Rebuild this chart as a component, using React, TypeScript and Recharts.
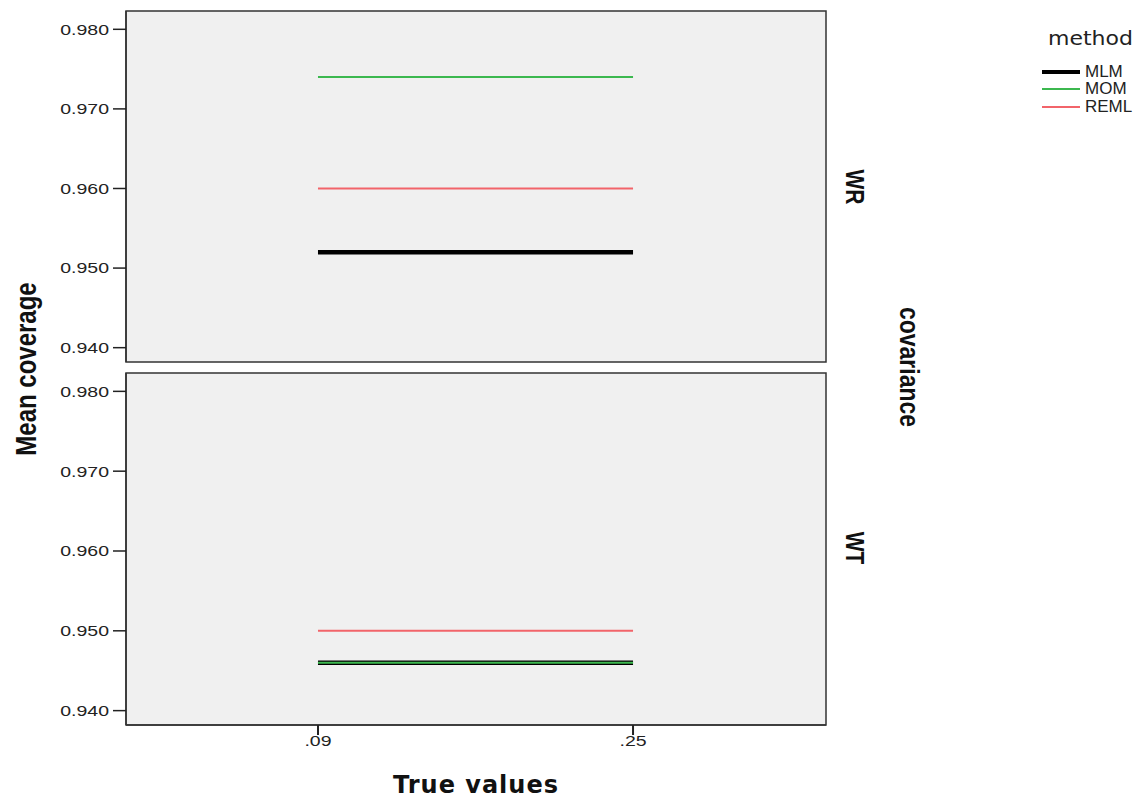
import { LineChart, Line, XAxis, YAxis, CartesianGrid, ReferenceArea } from 'recharts';

// valores
const trueValues = [0.09, 0.25];
const methods = ['MLM', 'MOM', 'REML'];
const yTicks = [0.94, 0.95, 0.96, 0.97, 0.98];

const wrMLM = [0.952, 0.952];
const wrMOM = [0.974, 0.974];
const wrREML = [0.96, 0.96];

const wtMLM = [0.946, 0.946];
const wtMOM = [0.946, 0.946];
const wtREML = [0.95, 0.95];

const COLORS: Record<string, string> = { MLM: '#000000', MOM: '#3cb84f', REML: '#f2646a' };
const WIDTHS: Record<string, number> = { MLM: 4.5, MOM: 2, REML: 2 };

const X_DOMAIN: [number, number] = [-0.0075, 0.348];
const Y_DOMAIN: [number, number] = [0.9382, 0.9823];
const FONT = '"Liberation Sans", Arial, sans-serif';
// a imagem original parece esticada na horizontal
const STRETCH = 1.3;

const buildRows = (mlm: number[], mom: number[], reml: number[]) =>
  trueValues.map((x, i) => ({ x, MLM: mlm[i], MOM: mom[i], REML: reml[i] }));

const wrRows = buildRows(wrMLM, wrMOM, wrREML);
const wtRows = buildRows(wtMLM, wtMOM, wtREML);

const StretchTick = ({ x, y, payload, textAnchor, dy, fmt }: any) => (
  <g transform={`translate(${x},${y}) scale(${STRETCH},1)`}>
    <text textAnchor={textAnchor} dy={dy} fontSize={15} fill="#222" fontFamily={FONT}>
      {fmt(payload.value)}
    </text>
  </g>
);

const MethodLegend = () => (
  <div style={{ position: 'absolute', left: 1042, top: 26, fontFamily: FONT, color: '#222' }}>
    <div
      style={{
        fontSize: 20,
        fontFamily: '"DejaVu Sans", sans-serif',
        marginLeft: 6,
        height: 37,
        transform: 'scaleX(1.1)',
        transformOrigin: 'left center',
      }}
    >
      method
    </div>
    {methods.map((m) => (
      <div key={m} style={{ display: 'flex', alignItems: 'center', height: 17.5 }}>
        <div style={{ width: 38, height: WIDTHS[m], background: COLORS[m], marginRight: 5 }} />
        <span style={{ fontSize: 17 }}>{m}</span>
      </div>
    ))}
  </div>
);

const fmtX = (v: number) => v.toFixed(2).replace(/^0/, '');
const fmtY = (v: number) => v.toFixed(3);

const Panel = ({ rows, top, height, showX }: any) => (
  <div style={{ position: 'absolute', left: 0, top }}>
    <LineChart
      width={1146}
      height={height}
      data={rows}
      margin={{ top: showX ? 8 : 11, right: 320, bottom: showX ? 0 : 8, left: 0 }}
    >
      <CartesianGrid fill="#f0f0f0" horizontal={false} vertical={false} />
      <ReferenceArea
        x1={X_DOMAIN[0]}
        x2={X_DOMAIN[1]}
        y1={Y_DOMAIN[0]}
        y2={Y_DOMAIN[1]}
        fill="none"
        fillOpacity={0}
        stroke="#333"
        strokeWidth={1.5}
      />
      <XAxis
        dataKey="x"
        type="number"
        domain={X_DOMAIN}
        ticks={trueValues}
        allowDataOverflow
        hide={!showX}
        height={showX ? 75 : 0}
        tick={<StretchTick dy="0.71em" fmt={fmtX} />}
        tickSize={10}
        tickMargin={0}
        tickLine={{ stroke: '#222', strokeWidth: 2 }}
        axisLine={{ stroke: '#333', strokeWidth: 1.5 }}
      />
      <YAxis
        type="number"
        domain={Y_DOMAIN}
        ticks={yTicks}
        allowDataOverflow
        width={126}
        tick={<StretchTick dy="0.355em" fmt={fmtY} />}
        tickSize={13}
        tickMargin={4}
        tickLine={{ stroke: '#222', strokeWidth: 1.5 }}
        axisLine={{ stroke: '#333', strokeWidth: 1.5 }}
      />
      {methods.map((m) => (
        <Line
          key={m}
          dataKey={m}
          stroke={COLORS[m]}
          strokeWidth={WIDTHS[m]}
          dot={false}
          isAnimationActive={false}
        />
      ))}
    </LineChart>
  </div>
);

const rotated = (text: string, x: number, y: number, size: number, angle: number) => (
  <div
    style={{
      position: 'absolute',
      left: x,
      top: y,
      transform: `translate(-50%, -50%) scaleX(1.2) rotate(${angle}deg)`,
      fontFamily: FONT,
      fontSize: size,
      fontWeight: 'bold',
      color: '#111',
      whiteSpace: 'nowrap',
    }}
  >
    {text}
  </div>
);

export default function App() {
  return (
    <div style={{ position: 'absolute', left: 0, top: 0, width: 1146, height: 800, background: '#fff' }}>
      <Panel rows={wrRows} top={0} height={370} showX={false} />
      <Panel rows={wtRows} top={365} height={435} showX={true} />
      <MethodLegend />
      {rotated('Mean coverage', 26, 369, 24, -90)}
      {rotated('WR', 854, 187, 21, 90)}
      {rotated('WT', 854, 548, 21, 90)}
      {rotated('covariance', 909, 367, 23, 90)}
      <div
        style={{
          position: 'absolute',
          left: 476,
          top: 785,
          transform: 'translate(-50%, -50%)',
          fontFamily: '"DejaVu Sans", Verdana, sans-serif',
          fontSize: 24,
          letterSpacing: 1,
          fontWeight: 'bold',
          color: '#111',
          whiteSpace: 'nowrap',
        }}
      >
        True values
      </div>
    </div>
  );
}
